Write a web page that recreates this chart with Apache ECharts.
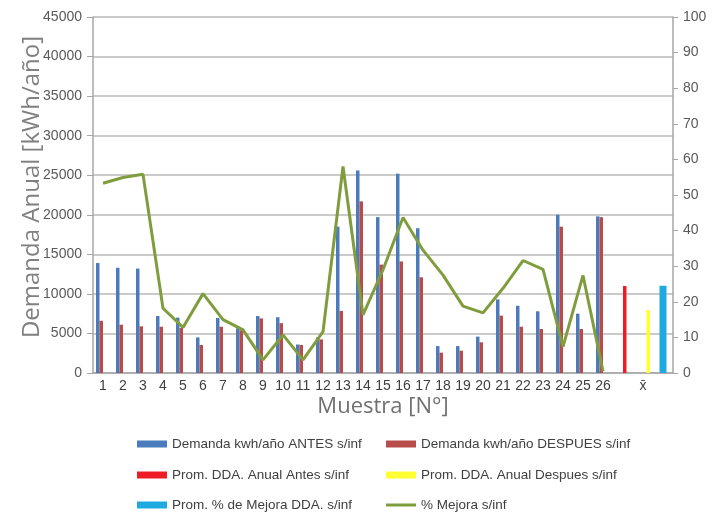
<!DOCTYPE html>
<html>
<head>
<meta charset="utf-8">
<script src="https://cdn.jsdelivr.net/npm/echarts@6/dist/echarts.min.js"></script>
<style>
html,body{margin:0;padding:0;background:#fff;}
#chart{width:725px;height:514px;}
</style>
</head>
<body>
<div id="chart"></div>
<script>
// ---- data ----
const categories = ['1','2','3','4','5','6','7','8','9','10','11','12','13','14','15','16','17','18','19','20','21','22','23','24','25','26','','x\u0304',''];
const antes = [13900, 13300, 13200, 7200, 7000, 4500, 6950, 5650, 7200, 7050, 3600, 4500, 18500, 25600, 19700, 25200, 18300, 3400, 3400, 4600, 9300, 8500, 7800, 20000, 7500, 19800];
const despues = [6600, 6100, 5900, 5850, 5700, 3540, 5850, 5400, 6900, 6300, 3550, 4250, 7850, 21700, 13700, 14100, 12100, 2570, 2820, 3880, 7250, 5850, 5560, 18500, 5560, 19700];
const mejora = [53.3, 54.9, 55.8, 18.2, 12.8, 22.3, 15.0, 12.1, 3.7, 10.7, 3.7, 11.6, 58.0, 16.3, 29.0, 43.7, 34.5, 27.5, 18.8, 16.9, 23.8, 31.6, 29.1, 7.4, 27.4, 0.5];
const promAntes = { category: '', index: 26, value: 11000 };
const promDespues = { category: 'x\u0304', index: 27, value: 7960 };
const promMejora = { category: '', index: 28, value: 24.5 };
const leftTicks = [0, 45000, 5000];
const rightTicks = [0, 100, 10];

const names = {
  antes: 'Demanda kwh/año ANTES s/inf',
  despues: 'Demanda kwh/año DESPUES s/inf',
  pAntes: 'Prom. DDA. Anual Antes s/inf',
  pDespues: 'Prom. DDA. Anual Despues s/inf',
  pMejora: 'Prom. % de Mejora DDA. s/inf',
  mejora: '% Mejora s/inf'
};
const colors = {
  antes: '#4a7cbc', despues: '#b84c4a', pAntes: '#ee1c25', pDespues: '#ffff33', pMejora: '#1ea9e1', mejora: '#7f9d3c'
};

function single(item) {
  return categories.map((c, i) => i === item.index ? item.value : null);
}

const labelColor = '#595959';
const font = 'Liberation Sans';
const legendText = {color: '#404040', fontSize: 13.5, fontFamily: font};

function leg(key, left, rowCenter, isLine) {
  return {
    orient: 'horizontal', left: left, top: rowCenter - 11,
    itemWidth: 30, itemHeight: isLine ? 3 : 7, itemGap: 0,
    textStyle: legendText,
    data: [{name: names[key], icon: 'rect', itemStyle: {color: colors[key]}}]
  };
}

const chart = echarts.init(document.getElementById('chart'), null, {renderer: 'canvas'});
chart.setOption({
  backgroundColor: '#ffffff',
  animation: false,
  grid: {left: 93, right: 52, top: 17, bottom: 141, containLabel: false},
  legend: [
    leg('antes', 132, 443), leg('despues', 381, 443),
    leg('pAntes', 132, 474), leg('pDespues', 381, 474),
    leg('pMejora', 132, 504), leg('mejora', 381, 504, true)
  ],
  graphic: [{
    type: 'text', x: 32, y: 187, rotation: Math.PI / 2,
    style: {text: 'Demanda Anual [kWh/año]', font: '24px "Open Sans"', fill: '#808080', textAlign: 'center', textVerticalAlign: 'middle'}
  }],
  xAxis: [
    {
      type: 'category', data: categories, gridIndex: 0,
      axisLine: {show: true, lineStyle: {color: '#a6a6a6', width: 1.5}},
      axisTick: {show: false},
      axisLabel: {color: '#404040', fontSize: 13, fontFamily: font, interval: 0, margin: 8,
        fontWeight: (v) => 'normal'},
      name: 'Muestra [N°]', nameLocation: 'middle', nameGap: 22,
      nameTextStyle: {color: '#707070', fontSize: 22, fontFamily: 'Open Sans'}
    },
    {
      type: 'category', data: categories, gridIndex: 0, show: false
    }
  ],
  yAxis: [
    {
      type: 'value', min: leftTicks[0], max: leftTicks[1], interval: leftTicks[2],
      axisLine: {show: true, lineStyle: {color: '#a6a6a6', width: 1.5}},
      axisTick: {show: true, length: 6, lineStyle: {color: '#a6a6a6'}},
      axisLabel: {color: labelColor, fontSize: 14, fontFamily: font, margin: 11, formatter: v => String(v)},
      splitLine: {show: true, lineStyle: {color: '#b8b8b8', width: 1.5}}
    },
    {
      type: 'value', min: rightTicks[0], max: rightTicks[1], interval: rightTicks[2], position: 'right',
      axisLine: {show: true, lineStyle: {color: '#a6a6a6', width: 1.5}},
      axisTick: {show: true, length: 5, lineStyle: {color: '#a6a6a6'}},
      axisLabel: {color: labelColor, fontSize: 14, fontFamily: font, margin: 10, formatter: v => String(v)},
      splitLine: {show: false}
    }
  ],
  series: [
    {name: names.antes, type: 'bar', xAxisIndex: 0, yAxisIndex: 0, data: antes, barWidth: 3.5, barGap: '0%', itemStyle: {color: colors.antes}},
    {name: names.despues, type: 'bar', xAxisIndex: 0, yAxisIndex: 0, data: despues, barWidth: 3.5, barGap: '0%', itemStyle: {color: colors.despues}},
    {name: names.pAntes, type: 'bar', xAxisIndex: 0, yAxisIndex: 0, data: single(promAntes), barWidth: 3.5, barGap: '0%', itemStyle: {color: colors.pAntes}},
    {name: names.pDespues, type: 'bar', xAxisIndex: 0, yAxisIndex: 0, data: single(promDespues), barWidth: 3.5, barGap: '0%', itemStyle: {color: colors.pDespues}},
    {name: names.pMejora, type: 'bar', xAxisIndex: 1, yAxisIndex: 1, data: single(promMejora), barWidth: 7, itemStyle: {color: colors.pMejora}},
    {name: names.mejora, type: 'line', xAxisIndex: 0, yAxisIndex: 1, data: mejora, showSymbol: false, symbol: 'none',
     lineStyle: {color: colors.mejora, width: 3}, itemStyle: {color: colors.mejora}, z: 5}
  ]
});
</script>
</body>
</html>
